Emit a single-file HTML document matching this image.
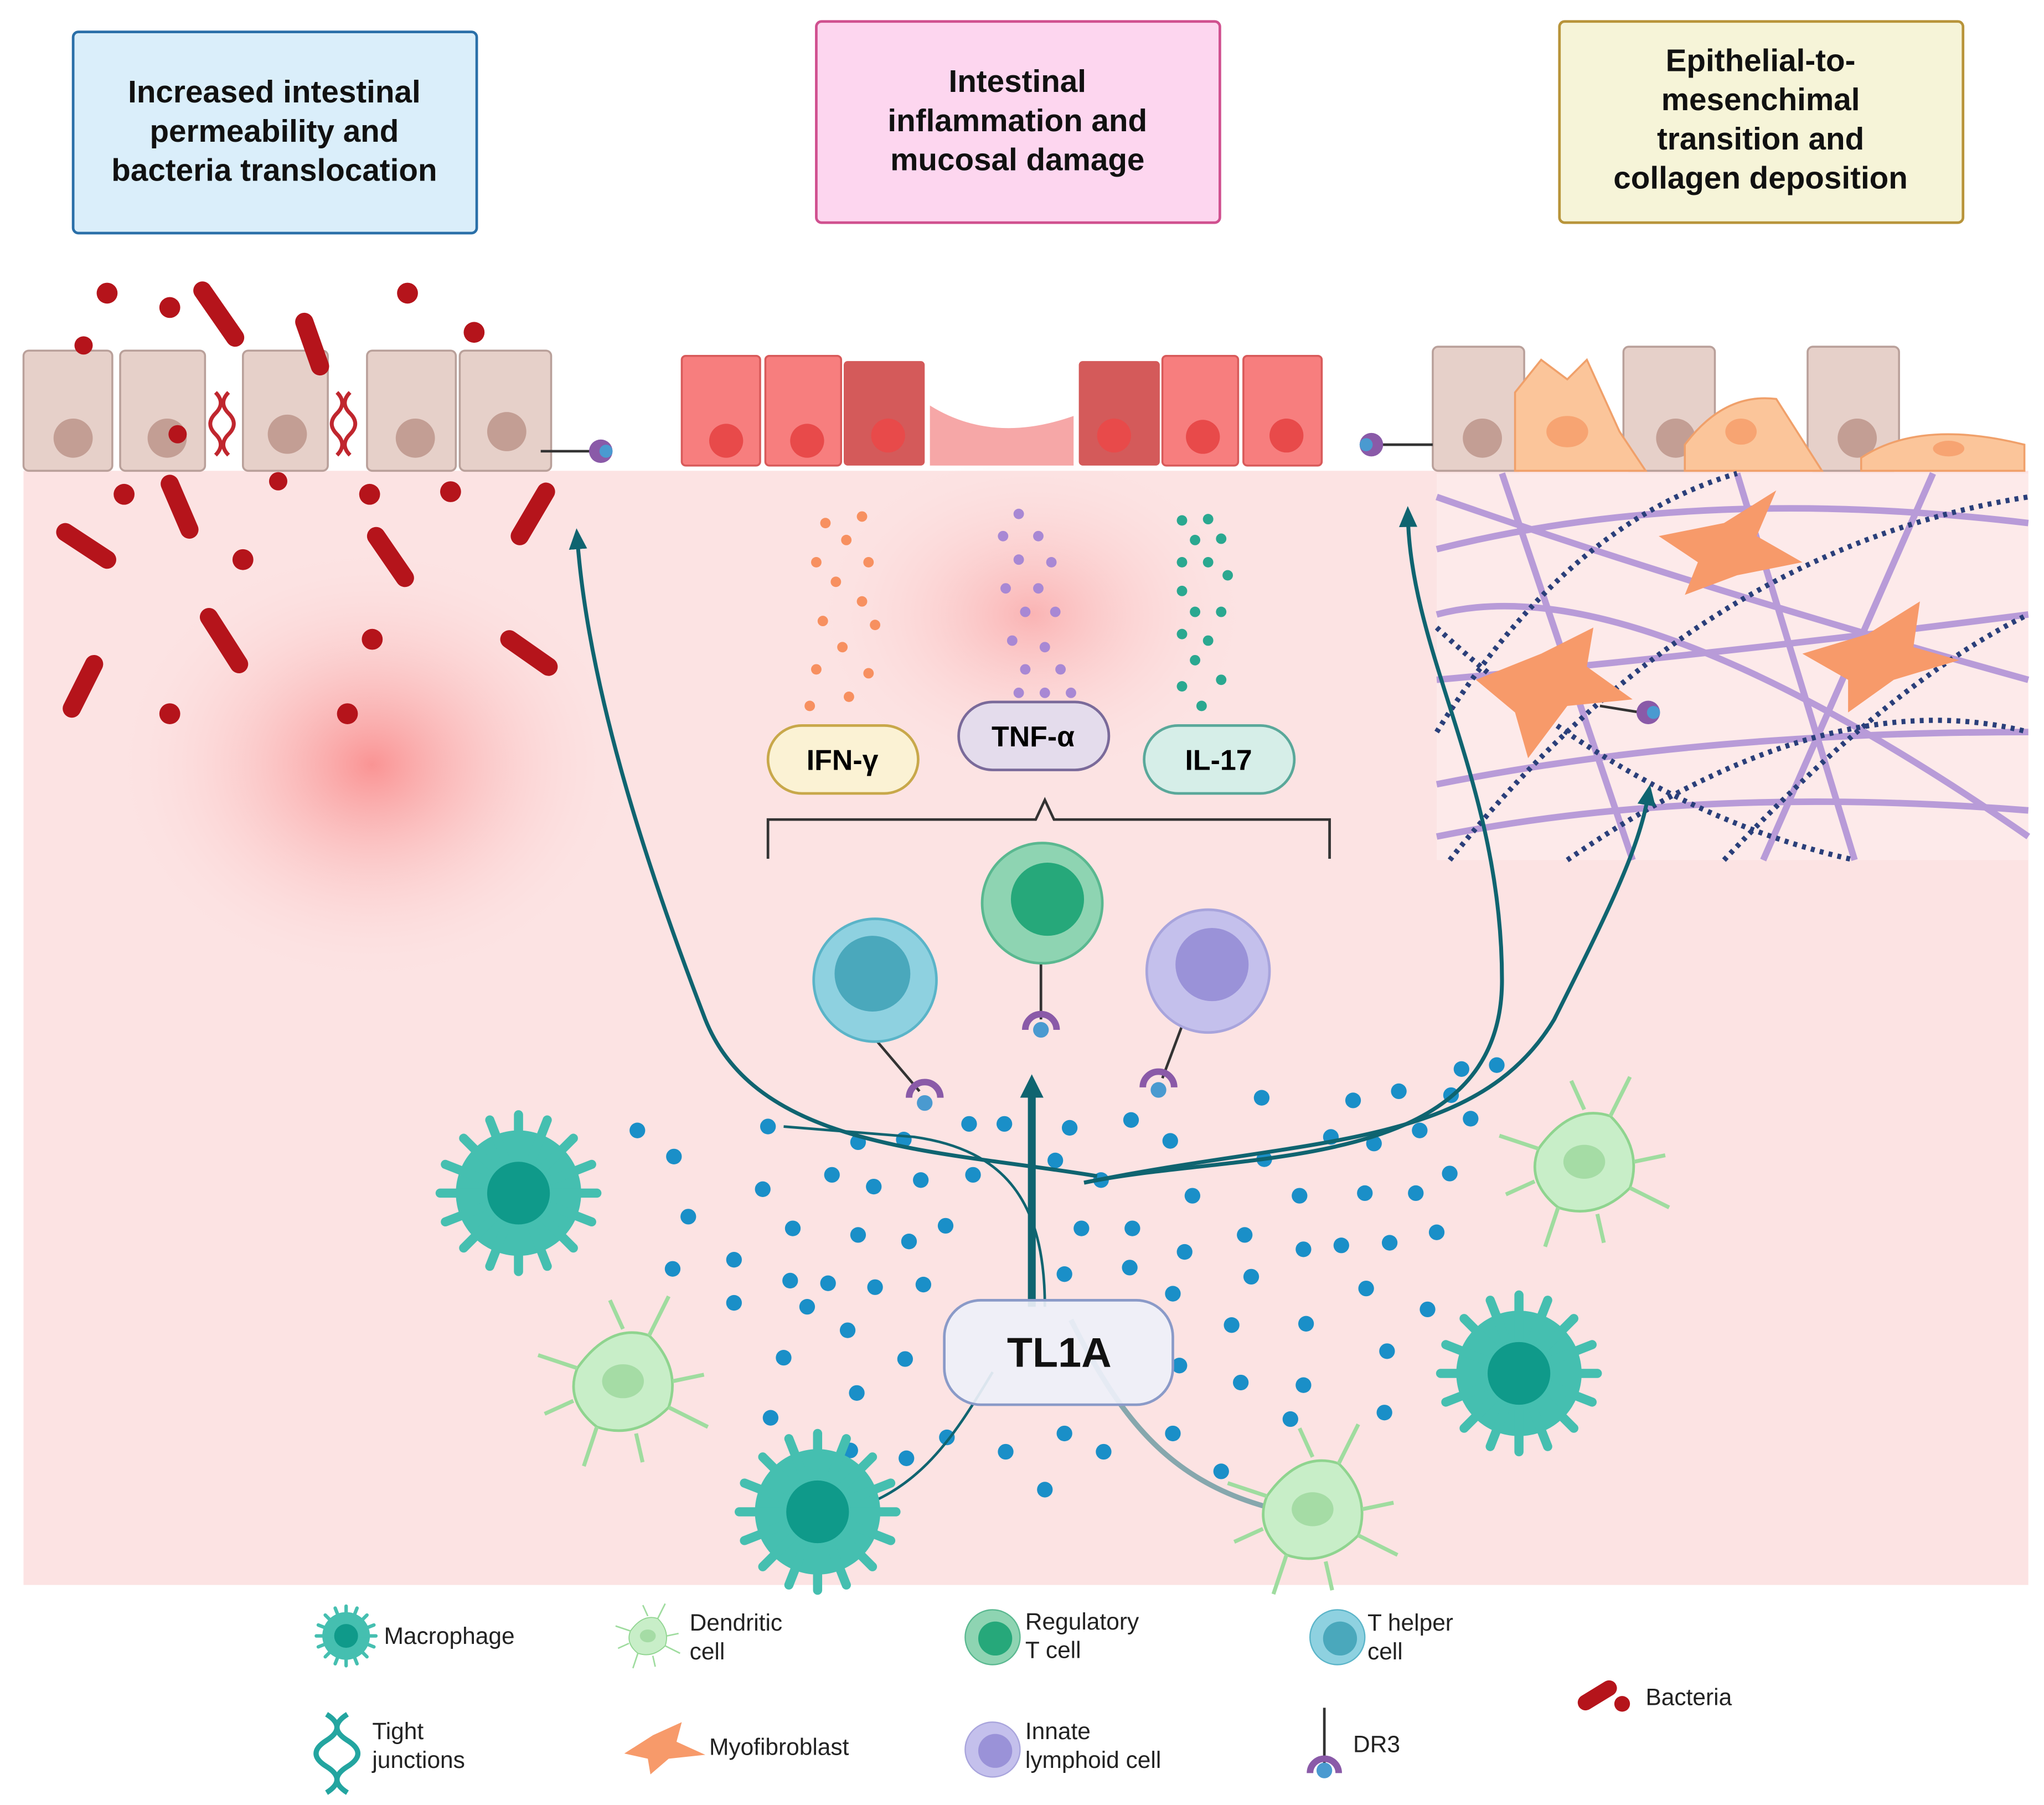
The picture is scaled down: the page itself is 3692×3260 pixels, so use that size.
<!DOCTYPE html>
<html><head><meta charset="utf-8"><style>
html,body{margin:0;padding:0;background:#fff}
svg{display:block}
text{font-family:"Liberation Sans",sans-serif}
</style></head><body>
<svg width="3692" height="3260" viewBox="0 0 1565 1381" xmlns="http://www.w3.org/2000/svg">
<defs>
<radialGradient id="rg1"><stop offset="0" stop-color="#f98b8b" stop-opacity="0.9"/><stop offset="1" stop-color="#fce4e4" stop-opacity="0"/></radialGradient>
<marker id="ah" markerUnits="userSpaceOnUse" markerWidth="16" markerHeight="16" refX="8" refY="8" orient="auto"><path d="M0,1 L16,8 L0,15 Z" fill="#0f6470"/></marker>
<marker id="ah2" markerUnits="userSpaceOnUse" markerWidth="20" markerHeight="20" refX="8" refY="10" orient="auto"><path d="M0,1 L18,10 L0,19 Z" fill="#0f6470"/></marker>
<g id="mac"><circle r="48" fill="#45bfb0"/><g stroke="#45bfb0" stroke-width="7" stroke-linecap="round">
<line x1="0" y1="-60" x2="0" y2="60"/><line x1="-60" y1="0" x2="60" y2="0"/><line x1="-42" y1="-42" x2="42" y2="42"/><line x1="-42" y1="42" x2="42" y2="-42"/>
<line x1="-22" y1="-56" x2="22" y2="56"/><line x1="-56" y1="-22" x2="56" y2="22"/><line x1="-22" y1="56" x2="22" y2="-56"/><line x1="-56" y1="22" x2="56" y2="-22"/></g>
<circle r="24" fill="#0f9a8a"/></g>
<g id="den"><path d="M-35,-10 Q-10,-45 20,-35 Q45,-10 35,20 Q10,45 -20,35 Q-45,15 -35,-10Z" fill="#c8eec8" stroke="#8fd48f" stroke-width="2"/>
<g stroke="#9fdc9f" stroke-width="3" fill="none"><path d="M20,-35 L35,-65"/><path d="M35,20 L65,35"/><path d="M-20,35 L-30,65"/><path d="M-35,-10 L-65,-20"/><path d="M0,-40 L-10,-62"/><path d="M38,0 L62,-5"/><path d="M10,40 L15,62"/><path d="M-38,15 L-60,25"/></g>
<ellipse cx="0" cy="0" rx="16" ry="13" fill="#a5dca5"/></g>
</defs>
<rect width="1565" height="1381" fill="#fff"/>
<rect x="18" y="360" width="1535" height="853" fill="#fce3e3"/>
<ellipse cx="285" cy="585" rx="200" ry="170" fill="url(#rg1)"/>
<ellipse cx="790" cy="470" rx="170" ry="130" fill="url(#rg1)" opacity="0.6"/>
<rect x="56" y="24" width="309" height="154" rx="4" fill="#daeefa" stroke="#2a6fa8" stroke-width="2"/>
<text x="210" y="78" text-anchor="middle" font-size="24" font-weight="bold" fill="#111">Increased intestinal</text>
<text x="210" y="108" text-anchor="middle" font-size="24" font-weight="bold" fill="#111">permeability and</text>
<text x="210" y="138" text-anchor="middle" font-size="24" font-weight="bold" fill="#111">bacteria translocation</text>
<rect x="625" y="16" width="309" height="154" rx="4" fill="#fdd6ef" stroke="#d0508f" stroke-width="2"/>
<text x="779" y="70" text-anchor="middle" font-size="24" font-weight="bold" fill="#111">Intestinal</text>
<text x="779" y="100" text-anchor="middle" font-size="24" font-weight="bold" fill="#111">inflammation and</text>
<text x="779" y="130" text-anchor="middle" font-size="24" font-weight="bold" fill="#111">mucosal damage</text>
<rect x="1194" y="16" width="309" height="154" rx="4" fill="#f6f4d8" stroke="#b8943a" stroke-width="2"/>
<text x="1348" y="54" text-anchor="middle" font-size="24" font-weight="bold" fill="#111">Epithelial-to-</text>
<text x="1348" y="84" text-anchor="middle" font-size="24" font-weight="bold" fill="#111">mesenchimal</text>
<text x="1348" y="114" text-anchor="middle" font-size="24" font-weight="bold" fill="#111">transition and</text>
<text x="1348" y="144" text-anchor="middle" font-size="24" font-weight="bold" fill="#111">collagen deposition</text>
<g fill="#e6d0c9" stroke="#b9a09a" stroke-width="1.5">
<rect x="18" y="268" width="68" height="92" rx="4"/><rect x="92" y="268" width="65" height="92" rx="4"/>
<rect x="186" y="268" width="65" height="92" rx="4"/><rect x="281" y="268" width="68" height="92" rx="4"/><rect x="352" y="268" width="70" height="92" rx="4"/></g>
<g fill="#c39e94"><circle cx="56" cy="335" r="15"/><circle cx="128" cy="335" r="15"/><circle cx="220" cy="332" r="15"/><circle cx="318" cy="335" r="15"/><circle cx="388" cy="330" r="15"/></g>
<g stroke="#c0262e" stroke-width="3" fill="none"><path d="M165,300 q8,8 0,16 q-8,8 0,16 q8,8 0,16"/><path d="M175,300 q-8,8 0,16 q8,8 0,16 q-8,8 0,16"/>
<path d="M258,300 q8,8 0,16 q-8,8 0,16 q8,8 0,16"/><path d="M268,300 q-8,8 0,16 q8,8 0,16 q-8,8 0,16"/></g>
<line x1="414" y1="345" x2="452" y2="345" stroke="#333" stroke-width="2"/><circle cx="460" cy="345" r="9" fill="#8a5aa8"/><circle cx="464" cy="345" r="5" fill="#4a9ad0"/>
<g fill="#b5141b"><circle cx="82" cy="224" r="8"/><circle cx="130" cy="235" r="8"/><circle cx="312" cy="224" r="8"/><circle cx="363" cy="254" r="8"/><circle cx="64" cy="264" r="7"/>
<circle cx="95" cy="378" r="8"/><circle cx="213" cy="368" r="7"/><circle cx="283" cy="378" r="8"/><circle cx="345" cy="376" r="8"/><circle cx="186" cy="428" r="8"/><circle cx="136" cy="332" r="7"/>
<circle cx="285" cy="489" r="8"/><circle cx="130" cy="546" r="8"/><circle cx="266" cy="546" r="8"/></g>
<g stroke="#b5141b" stroke-width="14" stroke-linecap="round">
<line x1="155" y1="222" x2="180" y2="258"/><line x1="233" y1="246" x2="245" y2="280"/><line x1="130" y1="370" x2="145" y2="405"/><line x1="50" y1="407" x2="82" y2="428"/>
<line x1="288" y1="410" x2="310" y2="442"/><line x1="418" y1="376" x2="398" y2="410"/><line x1="160" y1="472" x2="183" y2="508"/><line x1="390" y1="489" x2="420" y2="510"/><line x1="72" y1="508" x2="55" y2="542"/></g>
<g fill="#f77e7e" stroke="#d85a5a" stroke-width="1.5">
<rect x="522" y="272" width="60" height="84" rx="3"/><rect x="586" y="272" width="58" height="84" rx="3"/>
<rect x="890" y="272" width="58" height="84" rx="3"/><rect x="952" y="272" width="60" height="84" rx="3"/></g>
<g fill="#d45a5a"><rect x="646" y="276" width="62" height="80" rx="3"/><rect x="826" y="276" width="62" height="80" rx="3"/></g>
<path d="M712,310 Q760,340 822,318 L822,356 L712,356Z" fill="#f6a7a7"/>
<g fill="#e84a4a"><circle cx="556" cy="337" r="13"/><circle cx="618" cy="337" r="13"/><circle cx="680" cy="333" r="13"/><circle cx="853" cy="333" r="13"/><circle cx="921" cy="334" r="13"/><circle cx="985" cy="333" r="13"/></g>
<g fill="#e6d0c9" stroke="#b9a09a" stroke-width="1.5"><rect x="1097" y="265" width="70" height="95" rx="4"/><rect x="1243" y="265" width="70" height="95" rx="4"/><rect x="1384" y="265" width="70" height="95" rx="4"/></g>
<g fill="#c39e94"><circle cx="1135" cy="335" r="15"/><circle cx="1283" cy="335" r="15"/><circle cx="1422" cy="335" r="15"/></g>
<g fill="#fbc59a" stroke="#f0a06a" stroke-width="1.5"><path d="M1160,300 L1180,275 L1200,290 L1215,275 L1240,330 L1260,360 L1160,360Z"/><path d="M1290,340 Q1320,300 1360,305 L1395,360 L1290,360Z"/><path d="M1425,350 Q1470,320 1550,340 L1550,360 L1425,360Z"/></g>
<g fill="#f7a472"><ellipse cx="1200" cy="330" rx="16" ry="12"/><ellipse cx="1333" cy="330" rx="12" ry="10"/><ellipse cx="1492" cy="343" rx="12" ry="6"/></g>
<line x1="1055" y1="340" x2="1097" y2="340" stroke="#333" stroke-width="2"/><circle cx="1050" cy="340" r="9" fill="#8a5aa8"/><circle cx="1046" cy="340" r="5" fill="#4a9ad0"/>
<rect x="1100" y="362" width="453" height="296" fill="#fdeaea"/>
<g stroke="#a888d4" stroke-width="5" fill="none" opacity="0.8">
<path d="M1100,420 Q1300,370 1553,400"/><path d="M1100,520 Q1320,500 1553,470"/><path d="M1100,600 Q1300,560 1553,560"/><path d="M1100,470 Q1250,430 1553,640"/>
<path d="M1150,362 L1250,658"/><path d="M1330,362 L1420,658"/><path d="M1480,362 L1350,658"/><path d="M1100,640 Q1300,600 1553,620"/><path d="M1100,380 Q1300,450 1553,520"/></g>
<g stroke="#2a3f7a" stroke-width="4" stroke-dasharray="3,4" fill="none">
<path d="M1100,560 Q1200,400 1330,362"/><path d="M1100,480 Q1250,620 1420,658"/><path d="M1110,658 Q1300,420 1553,380"/><path d="M1320,658 Q1450,520 1553,470"/><path d="M1200,658 Q1400,520 1553,560"/></g>
<g fill="#f79a6a"><path d="M1130,520 L1180,500 L1220,480 L1215,510 L1250,535 L1200,540 L1170,580 L1160,545Z"/><path d="M1270,410 L1320,400 L1360,375 L1345,410 L1380,430 L1330,440 L1290,455 L1300,430Z"/><path d="M1380,500 L1430,485 L1470,460 L1465,495 L1500,505 L1450,520 L1415,545 L1415,520Z"/></g>
<line x1="1225" y1="540" x2="1256" y2="545" stroke="#333" stroke-width="2"/><circle cx="1262" cy="545" r="9" fill="#8a5aa8"/><circle cx="1266" cy="545" r="5" fill="#4a9ad0"/>
<g fill="#f79060"><circle cx="632" cy="400" r="4"/><circle cx="660" cy="395" r="4"/><circle cx="648" cy="413" r="4"/><circle cx="625" cy="430" r="4"/><circle cx="665" cy="430" r="4"/><circle cx="640" cy="445" r="4"/><circle cx="660" cy="460" r="4"/><circle cx="630" cy="475" r="4"/><circle cx="670" cy="478" r="4"/><circle cx="645" cy="495" r="4"/><circle cx="625" cy="512" r="4"/><circle cx="665" cy="515" r="4"/><circle cx="650" cy="533" r="4"/><circle cx="620" cy="540" r="4"/></g>
<g fill="#a888d4"><circle cx="780" cy="393" r="4"/><circle cx="768" cy="410" r="4"/><circle cx="795" cy="410" r="4"/><circle cx="780" cy="428" r="4"/><circle cx="805" cy="430" r="4"/><circle cx="770" cy="450" r="4"/><circle cx="795" cy="450" r="4"/><circle cx="785" cy="468" r="4"/><circle cx="808" cy="468" r="4"/><circle cx="775" cy="490" r="4"/><circle cx="800" cy="495" r="4"/><circle cx="785" cy="512" r="4"/><circle cx="812" cy="512" r="4"/><circle cx="780" cy="530" r="4"/><circle cx="800" cy="530" r="4"/><circle cx="820" cy="530" r="4"/></g>
<g fill="#2aa890"><circle cx="905" cy="398" r="4"/><circle cx="925" cy="397" r="4"/><circle cx="915" cy="413" r="4"/><circle cx="935" cy="412" r="4"/><circle cx="905" cy="430" r="4"/><circle cx="925" cy="430" r="4"/><circle cx="940" cy="440" r="4"/><circle cx="905" cy="452" r="4"/><circle cx="915" cy="468" r="4"/><circle cx="935" cy="468" r="4"/><circle cx="905" cy="485" r="4"/><circle cx="925" cy="490" r="4"/><circle cx="915" cy="505" r="4"/><circle cx="935" cy="520" r="4"/><circle cx="905" cy="525" r="4"/><circle cx="920" cy="540" r="4"/></g>
<rect x="588" y="555" width="115" height="52" rx="26" fill="#fbf2d4" stroke="#c8a84a" stroke-width="2"/><text x="645" y="589" text-anchor="middle" font-size="22" font-weight="bold">IFN-γ</text>
<rect x="734" y="537" width="115" height="52" rx="26" fill="#e4dcec" stroke="#7a6a9a" stroke-width="2"/><text x="791" y="571" text-anchor="middle" font-size="22" font-weight="bold">TNF-α</text>
<rect x="876" y="555" width="115" height="52" rx="26" fill="#d6eee8" stroke="#5aa89a" stroke-width="2"/><text x="933" y="589" text-anchor="middle" font-size="22" font-weight="bold">IL-17</text>
<path d="M588,657 L588,627 L793,627 L800,612 L807,627 L1018,627 L1018,657" fill="none" stroke="#333" stroke-width="2"/>
<line x1="670" y1="795" x2="704" y2="835" stroke="#333" stroke-width="2"/><path d="M696,840 a12,12 0 0 1 24,0" fill="none" stroke="#8a5aa8" stroke-width="5"/><circle cx="708" cy="844" r="6" fill="#4a9ad0"/>
<circle cx="670" cy="750" r="47" fill="#8ed1e0" stroke="#5ab4c8" stroke-width="2"/><circle cx="668" cy="745" r="29" fill="#4aa8bc"/>
<line x1="797" y1="735" x2="797" y2="780" stroke="#333" stroke-width="2"/><path d="M785,788 a12,12 0 0 1 24,0" fill="none" stroke="#8a5aa8" stroke-width="5"/><circle cx="797" cy="788" r="6" fill="#4a9ad0"/>
<circle cx="798" cy="691" r="46" fill="#8ed4b2" stroke="#5ab890" stroke-width="2"/><circle cx="802" cy="688" r="28" fill="#26a87a"/>
<line x1="905" y1="785" x2="890" y2="825" stroke="#333" stroke-width="2"/><path d="M875,832 a12,12 0 0 1 24,0" fill="none" stroke="#8a5aa8" stroke-width="5"/><circle cx="887" cy="834" r="6" fill="#4a9ad0"/>
<circle cx="925" cy="743" r="47" fill="#c4c0ec" stroke="#a8a4dc" stroke-width="2"/><circle cx="928" cy="738" r="28" fill="#9a92d8"/>
<g fill="#1a8fc8">
<circle cx="488" cy="865" r="6"/><circle cx="516" cy="885" r="6"/><circle cx="588" cy="862" r="6"/><circle cx="657" cy="874" r="6"/><circle cx="692" cy="872" r="6"/><circle cx="742" cy="860" r="6"/><circle cx="769" cy="860" r="6"/><circle cx="819" cy="863" r="6"/><circle cx="866" cy="857" r="6"/><circle cx="966" cy="840" r="6"/><circle cx="1036" cy="842" r="6"/><circle cx="1071" cy="835" r="6"/><circle cx="1111" cy="838" r="6"/><circle cx="1146" cy="815" r="6"/><circle cx="1119" cy="818" r="6"/>
<circle cx="584" cy="910" r="6"/><circle cx="637" cy="899" r="6"/><circle cx="669" cy="908" r="6"/><circle cx="705" cy="903" r="6"/><circle cx="745" cy="899" r="6"/><circle cx="808" cy="888" r="6"/><circle cx="843" cy="903" r="6"/><circle cx="896" cy="873" r="6"/><circle cx="968" cy="887" r="6"/><circle cx="1019" cy="870" r="6"/><circle cx="1052" cy="875" r="6"/><circle cx="1087" cy="865" r="6"/><circle cx="1126" cy="856" r="6"/>
<circle cx="527" cy="931" r="6"/><circle cx="607" cy="940" r="6"/><circle cx="657" cy="945" r="6"/><circle cx="696" cy="950" r="6"/><circle cx="724" cy="938" r="6"/><circle cx="828" cy="940" r="6"/><circle cx="867" cy="940" r="6"/><circle cx="913" cy="915" r="6"/><circle cx="995" cy="915" r="6"/><circle cx="1045" cy="913" r="6"/><circle cx="1084" cy="913" r="6"/><circle cx="1110" cy="898" r="6"/>
<circle cx="515" cy="971" r="6"/><circle cx="562" cy="964" r="6"/><circle cx="605" cy="980" r="6"/><circle cx="634" cy="982" r="6"/><circle cx="670" cy="985" r="6"/><circle cx="707" cy="983" r="6"/><circle cx="815" cy="975" r="6"/><circle cx="865" cy="970" r="6"/><circle cx="907" cy="958" r="6"/><circle cx="953" cy="945" r="6"/><circle cx="998" cy="956" r="6"/><circle cx="1027" cy="953" r="6"/><circle cx="1064" cy="951" r="6"/><circle cx="1100" cy="943" r="6"/>
<circle cx="562" cy="997" r="6"/><circle cx="618" cy="1000" r="6"/><circle cx="898" cy="990" r="6"/><circle cx="958" cy="977" r="6"/><circle cx="1046" cy="986" r="6"/><circle cx="1093" cy="1002" r="6"/><circle cx="649" cy="1018" r="6"/><circle cx="943" cy="1014" r="6"/><circle cx="1000" cy="1013" r="6"/>
<circle cx="600" cy="1039" r="6"/><circle cx="693" cy="1040" r="6"/><circle cx="903" cy="1045" r="6"/><circle cx="1062" cy="1034" r="6"/><circle cx="656" cy="1066" r="6"/><circle cx="950" cy="1058" r="6"/><circle cx="998" cy="1060" r="6"/><circle cx="1060" cy="1081" r="6"/>
<circle cx="590" cy="1085" r="6"/><circle cx="725" cy="1100" r="6"/><circle cx="770" cy="1111" r="6"/><circle cx="815" cy="1097" r="6"/><circle cx="845" cy="1111" r="6"/><circle cx="898" cy="1097" r="6"/><circle cx="988" cy="1086" r="6"/><circle cx="694" cy="1116" r="6"/><circle cx="651" cy="1110" r="6"/><circle cx="935" cy="1126" r="6"/><circle cx="800" cy="1140" r="6"/></g>
<g fill="none" stroke="#0f6470">
<path d="M840,900 C720,880 580,880 540,780 C490,650 450,520 442,412" marker-end="url(#ah)" stroke-width="3"/>
<path d="M790,1000 C790,960 790,880 790,832" marker-end="url(#ah2)" stroke-width="6"/>
<path d="M830,905 C950,880 1150,900 1150,750 C1150,600 1080,500 1078,395" marker-end="url(#ah)" stroke-width="3"/>
<path d="M830,905 C1000,870 1130,880 1190,780 C1230,700 1255,650 1262,608" marker-end="url(#ah)" stroke-width="3"/>
<path d="M630,1160 C700,1150 730,1100 760,1050" stroke-width="2"/>
<path d="M800,1000 C800,920 770,880 700,870 L600,862" stroke-width="2"/>
<path d="M990,1158 C900,1140 860,1090 820,1010" stroke="#86a7ad" stroke-width="4"/></g>
<rect x="723" y="995" width="175" height="80" rx="28" fill="#eef0f8" fill-opacity="0.92" stroke="#8a9ac8" stroke-width="2"/>
<text x="811" y="1046" text-anchor="middle" font-size="32" font-weight="bold" fill="#111">TL1A</text>
<use href="#mac" transform="translate(397,913)"/><use href="#mac" transform="translate(1163,1051)"/><use href="#mac" transform="translate(626,1157)"/>
<use href="#den" transform="translate(477,1057)"/><use href="#den" transform="translate(1213,889)"/><use href="#den" transform="translate(1005,1155)"/>
<use href="#mac" transform="translate(265,1252) scale(0.38)"/><text x="294" y="1258" font-size="18" fill="#222">Macrophage</text>
<use href="#den" transform="translate(496,1252) scale(0.38)"/><text x="528" y="1248" font-size="18" fill="#222">Dendritic</text><text x="528" y="1270" font-size="18" fill="#222">cell</text>
<circle cx="760" cy="1253" r="21" fill="#8ed4b2" stroke="#5ab890"/><circle cx="762" cy="1254" r="13" fill="#26a87a"/><text x="785" y="1247" font-size="18" fill="#222">Regulatory</text><text x="785" y="1269" font-size="18" fill="#222">T cell</text>
<circle cx="1024" cy="1253" r="21" fill="#8ed1e0" stroke="#5ab4c8"/><circle cx="1026" cy="1254" r="13" fill="#4aa8bc"/><text x="1047" y="1248" font-size="18" fill="#222">T helper</text><text x="1047" y="1270" font-size="18" fill="#222">cell</text>
<g stroke="#23a5a0" stroke-width="4" fill="none"><path d="M250,1312 q16,10 0,20 q-16,10 0,20 q16,10 0,20"/><path d="M266,1312 q-16,10 0,20 q16,10 0,20 q-16,10 0,20"/></g><text x="285" y="1331" font-size="18" fill="#222">Tight</text><text x="285" y="1353" font-size="18" fill="#222">junctions</text>
<path d="M478,1342 L500,1328 L522,1318 L518,1333 L540,1343 L512,1346 L498,1358 L496,1346Z" fill="#f79a6a"/><text x="543" y="1343" font-size="18" fill="#222">Myofibroblast</text>
<circle cx="760" cy="1339" r="21" fill="#c4c0ec" stroke="#a8a4dc"/><circle cx="762" cy="1340" r="13" fill="#9a92d8"/><text x="785" y="1331" font-size="18" fill="#222">Innate</text><text x="785" y="1353" font-size="18" fill="#222">lymphoid cell</text>
<line x1="1014" y1="1307" x2="1014" y2="1350" stroke="#333" stroke-width="2"/><path d="M1003,1357 a11,11 0 0 1 22,0" fill="none" stroke="#8a5aa8" stroke-width="5"/><circle cx="1014" cy="1355" r="6" fill="#4a9ad0"/><text x="1036" y="1341" font-size="18" fill="#222">DR3</text>
<line x1="1214" y1="1303" x2="1232" y2="1292" stroke="#b5141b" stroke-width="12" stroke-linecap="round"/><circle cx="1242" cy="1304" r="6" fill="#b5141b"/><text x="1260" y="1305" font-size="18" fill="#222">Bacteria</text>
</svg>
</body></html>
